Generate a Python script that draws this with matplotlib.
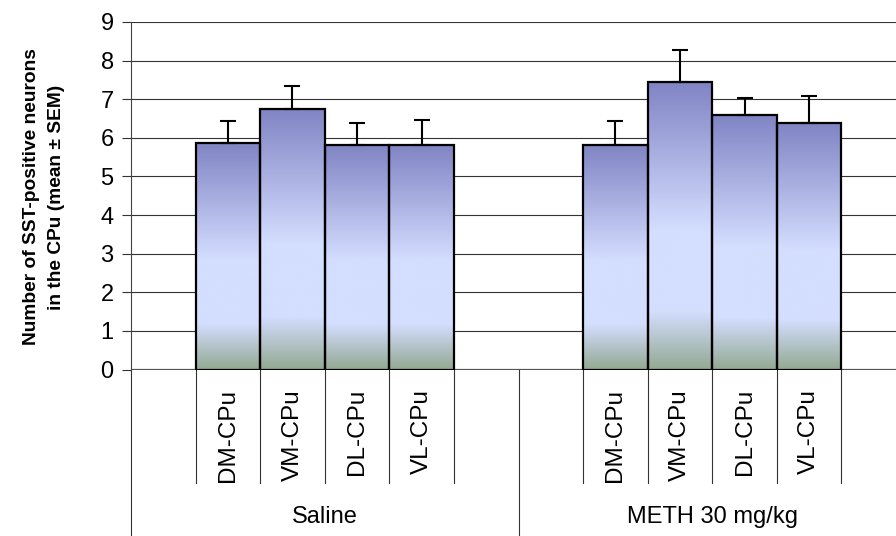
import numpy as np
import matplotlib
matplotlib.use('Agg')
import matplotlib.pyplot as plt
import matplotlib.transforms as mtransforms

plt.rcParams['font.family'] = ['Liberation Sans', 'DejaVu Sans']

# regions of the caudate-putamen, two treatment groups
regions = ['DM-CPu', 'VM-CPu', 'DL-CPu', 'VL-CPu']
groups = ['Saline', 'METH 30 mg/kg']
saline_mean = [5.87, 6.74, 5.82, 5.82]
saline_sem = [0.57, 0.60, 0.57, 0.64]
meth_mean = [5.82, 7.45, 6.59, 6.39]
meth_sem = [0.62, 0.82, 0.43, 0.70]
yticks = list(range(0, 10))

W, H = 896, 536
fig = plt.figure(figsize=(W / 100, H / 100), dpi=100)
# plot area: y-axis at x=131px, zero line at 369.5px, top at 22px
# (12 category slots of ~64.6px, the last one runs off the right edge)
ax = fig.add_axes([131 / W, (H - 369.5) / H, 775 / W, 347.5 / H])

# one empty slot either side of each group of four bars
xpos = np.array([1, 2, 3, 4, 7, 8, 9, 10]) + 0.5
means = saline_mean + meth_mean
sems = saline_sem + meth_sem

# vertical fill: slate blue at top, pale blue in the middle, grey-green at the base
stops = [0.0, 0.52, 0.80, 1.0]
cols = np.array([[128, 132, 196], [212, 222, 255], [212, 222, 255], [148, 170, 148]]) / 255
t = np.linspace(0, 1, 256)
grad = np.stack([np.interp(t, stops, cols[:, k]) for k in range(3)], axis=-1)[:, None, :]

bars = ax.bar(xpos, means, width=1.0, facecolor='none', edgecolor='black',
              linewidth=1.6, zorder=3)
for rect, m in zip(bars, means):
    x0 = rect.get_x()
    im = ax.imshow(grad, extent=(x0, x0 + 1.0, 0, m), aspect='auto', zorder=2,
                   interpolation='bilinear')
    im.set_clip_path(rect)

ax.errorbar(xpos, means, yerr=[np.zeros(len(sems)), sems], fmt='none',
            ecolor='black', elinewidth=1.5, capsize=6, capthick=1.5, zorder=4)

ax.set_xlim(0, 12)
ax.set_ylim(0, 9)
ax.set_yticks(yticks)
ax.set_yticklabels([str(v) for v in yticks], fontsize=17)
ax.tick_params(axis='y', length=6.5, width=0.8, color='#333333', pad=6)
ax.set_xticks([])
ax.yaxis.grid(True, color='#333333', linewidth=0.8)
ax.set_axisbelow(True)
for side in ['top', 'right', 'bottom']:
    ax.spines[side].set_visible(False)
ax.spines['left'].set_color('#444444')
ax.spines['left'].set_linewidth(0.8)
ax.axhline(0, color='#555555', linewidth=1.6, zorder=1)

# two-tier category axis below the plot
trans = mtransforms.blended_transform_factory(ax.transData, ax.transAxes)
tier1 = -(483 - 369.5) / 347.5
tier2 = -(H - 369.5) / 347.5
for xb in [1, 2, 3, 4, 5, 7, 8, 9, 10, 11]:
    ax.plot([xb, xb], [0, tier1], transform=trans, color='#333333', lw=0.8, clip_on=False)
for xb in [0, 6]:
    ax.plot([xb, xb], [0, tier2], transform=trans, color='#333333', lw=0.8, clip_on=False)

for x in xpos:
    ax.text(x, -(389 - 369.5) / 347.5, regions[int(x) % 6 - 1], transform=trans,
            rotation=90, ha='center', va='top', fontsize=17.5)
for gx, g in zip([3, 9], groups):
    ax.text(gx, -(517 - 369.5) / 347.5, g, transform=trans, ha='center',
            va='center', fontsize=17)

fig.text(44 / W, 1 - 197 / H, 'Number of SST-positive neurons\nin the CPu (mean \u00b1 SEM)',
         rotation=90, ha='center', va='center', multialignment='center',
         fontsize=13.8, fontweight='bold', linespacing=1.6)

fig.savefig('out.png', dpi=100)
